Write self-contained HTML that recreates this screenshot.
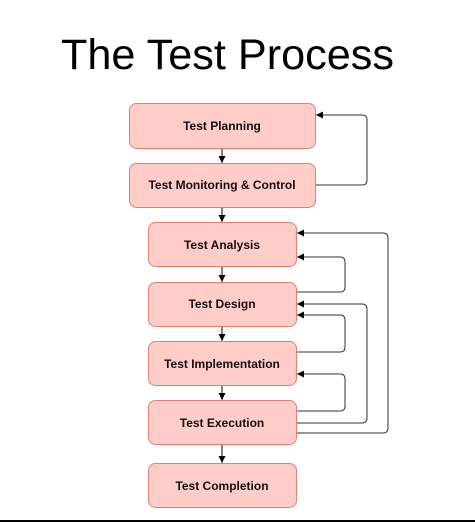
<!DOCTYPE html>
<html><head><style>html,body{margin:0;padding:0;background:#fff;width:475px;height:523px;overflow:hidden}</style></head>
<body>
<svg width="475" height="523" xmlns="http://www.w3.org/2000/svg" font-family="Liberation Sans, Arial, sans-serif">
<defs><marker id="a" markerWidth="8" markerHeight="8" refX="7" refY="4" orient="auto" markerUnits="userSpaceOnUse"><path d="M0,0.5 L7,4 L0,7.5 z" fill="#000"/></marker></defs>
<text x="61" y="69" font-size="43" textLength="333" lengthAdjust="spacingAndGlyphs" fill="#000">The Test Process</text>
<g fill="#ffcdc8" stroke="#e07f74" stroke-width="1">
<rect x="129.5" y="103.5" width="186" height="45" rx="7"/>
<rect x="129.5" y="163.5" width="186" height="44" rx="7"/>
<rect x="148.5" y="222.5" width="148" height="44" rx="7"/>
<rect x="148.5" y="282.5" width="148" height="44" rx="7"/>
<rect x="148.5" y="341.5" width="148" height="44" rx="7"/>
<rect x="148.5" y="400.5" width="148" height="44" rx="7"/>
<rect x="148.5" y="463.5" width="148" height="44" rx="7"/>
</g>
<g font-size="12" font-weight="bold" text-anchor="middle" fill="#111">
<text x="222" y="130">Test Planning</text>
<text x="222" y="189">Test Monitoring &amp; Control</text>
<text x="222" y="249">Test Analysis</text>
<text x="222" y="308">Test Design</text>
<text x="222" y="368">Test Implementation</text>
<text x="222" y="427">Test Execution</text>
<text x="222" y="490">Test Completion</text>
</g>
<g stroke="#000" stroke-width="1" fill="none" marker-end="url(#a)">
<line x1="222" y1="149" x2="222" y2="163"/>
<line x1="222" y1="208" x2="222" y2="222"/>
<line x1="222" y1="267" x2="222" y2="282"/>
<line x1="222" y1="327" x2="222" y2="341"/>
<line x1="222" y1="386" x2="222" y2="400"/>
<line x1="222" y1="445" x2="222" y2="463"/>
</g>
<g stroke="#333" stroke-width="1" fill="none" marker-end="url(#a)">
<path d="M316,185 H362 Q367,185 367,180 V120 Q367,115 362,115 H316"/>
<path d="M297,292 H340 Q345,292 345,287 V262 Q345,257 340,257 H297"/>
<path d="M297,433 H383 Q388,433 388,428 V238 Q388,233 383,233 H297"/>
<path d="M297,423 H362 Q367,423 367,418 V309 Q367,304 362,304 H297"/>
<path d="M297,352 H340 Q345,352 345,347 V320 Q345,315 340,315 H297"/>
<path d="M297,411 H340 Q345,411 345,406 V379 Q345,374 340,374 H297"/>
</g>
<rect x="0" y="520" width="475" height="2" fill="#000"/>
</svg>
</body></html>
